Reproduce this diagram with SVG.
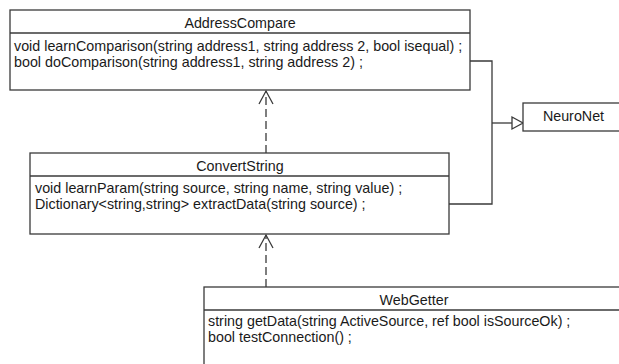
<svg xmlns="http://www.w3.org/2000/svg" width="619" height="364" viewBox="0 0 619 364">
  <style>
    .box { fill: #ffffff; stroke: #3a3a3a; stroke-width: 1.3; }
    .sep { stroke: #3a3a3a; stroke-width: 1.3; }
    .title { font-family: "Liberation Sans", Arial, sans-serif; font-size: 14.3px; fill: #1a1a1a; text-anchor: middle; }
    .op { font-family: "Liberation Sans", Arial, sans-serif; font-size: 14.3px; fill: #1a1a1a; }
    .line { fill: none; stroke: #3a3a3a; stroke-width: 1.3; }
    .dash { fill: none; stroke: #3a3a3a; stroke-width: 1.3; stroke-dasharray: 8 4; }
    .head { fill: none; stroke: #3a3a3a; stroke-width: 1.3; }
    .tri { fill: #ffffff; stroke: #3a3a3a; stroke-width: 1.3; }
  </style>
  <rect width="619" height="364" fill="#ffffff"/>

  <g id="connectors">
    <!-- generalization: AddressCompare and ConvertString to NeuroNet -->
    <polyline class="line" points="470,61 492,61 492,204 449,204"/>
    <line class="line" x1="492" y1="123" x2="512" y2="123"/>
    <polygon class="tri" points="512,117 523,123 512,129"/>
    <!-- dependency: ConvertString uses AddressCompare -->
    <line class="dash" x1="266" y1="153" x2="266" y2="91"/>
    <polyline class="head" points="259,104 266,91 273,104"/>
    <!-- dependency: WebGetter uses ConvertString -->
    <line class="dash" x1="266" y1="287" x2="266" y2="235"/>
    <polyline class="head" points="259,248 266,235 273,248"/>
  </g>

  <g id="AddressCompare">
    <rect class="box" x="10" y="10" width="460" height="80"/>
    <line class="sep" x1="10" y1="33" x2="470" y2="33"/>
    <text class="title" x="240" y="28">AddressCompare</text>
    <text class="op" x="14" y="51">void learnComparison(string address1, string address 2, bool isequal) ;</text>
    <text class="op" x="14" y="67">bool doComparison(string address1, string address 2) ;</text>
  </g>

  <g id="NeuroNet">
    <rect class="box" x="523" y="103" width="102" height="28"/>
    <text class="title" x="573.5" y="121">NeuroNet</text>
  </g>

  <g id="ConvertString">
    <rect class="box" x="30" y="153" width="419" height="81"/>
    <line class="sep" x1="30" y1="176" x2="449" y2="176"/>
    <text class="title" x="240" y="171">ConvertString</text>
    <text class="op" x="35" y="193">void learnParam(string source, string name, string value) ;</text>
    <text class="op" x="35" y="209">Dictionary&lt;string,string&gt; extractData(string source) ;</text>
  </g>

  <g id="WebGetter">
    <rect class="box" x="204" y="287" width="420" height="90"/>
    <line class="sep" x1="204" y1="310" x2="624" y2="310"/>
    <text class="title" x="414" y="305">WebGetter</text>
    <text class="op" x="208" y="326">string getData(string ActiveSource, ref bool isSourceOk) ;</text>
    <text class="op" x="208" y="342">bool testConnection() ;</text>
  </g>
</svg>
